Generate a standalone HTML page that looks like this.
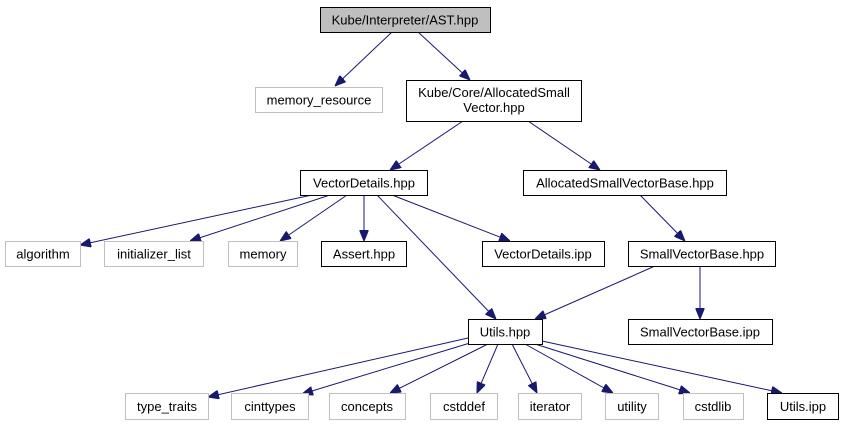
<!DOCTYPE html>
<html><head><meta charset="utf-8"><style>
html,body{margin:0;padding:0;background:#fff;}
svg{display:block;}
text{font-family:"Liberation Sans",Arial,sans-serif;font-size:13px;text-anchor:middle;fill:#000;}
.g{fill:#fff;stroke:#bfbfbf;stroke-width:1;}
.b{fill:#fff;stroke:#000;stroke-width:1;}
.e{stroke:#191970;stroke-width:1;fill:none;marker-end:url(#a);}
</style></head><body>
<svg width="843" height="425" viewBox="0 0 843 425" xmlns="http://www.w3.org/2000/svg">
<defs><marker id="a" markerWidth="11" markerHeight="9" refX="11" refY="4.5" orient="auto" markerUnits="userSpaceOnUse"><path d="M0,0 L11,4.5 L0,9 z" fill="#191970" stroke="#191970"/></marker></defs>
<line class="e" x1="392" y1="32" x2="335" y2="86"/>
<line class="e" x1="418" y1="32" x2="470" y2="80"/>
<line class="e" x1="463" y1="121" x2="390" y2="170"/>
<line class="e" x1="528" y1="121" x2="600" y2="170"/>
<line class="e" x1="312" y1="195" x2="80" y2="245"/>
<line class="e" x1="330" y1="195" x2="190" y2="241"/>
<line class="e" x1="347" y1="195" x2="280" y2="241"/>
<line class="e" x1="364" y1="195" x2="364" y2="241"/>
<line class="e" x1="377" y1="195" x2="496" y2="319"/>
<line class="e" x1="392" y1="195" x2="510" y2="241"/>
<line class="e" x1="640" y1="195" x2="685" y2="241"/>
<line class="e" x1="655" y1="266" x2="535" y2="319"/>
<line class="e" x1="700" y1="266" x2="700" y2="319"/>
<line class="e" x1="468" y1="338" x2="208" y2="397"/>
<line class="e" x1="470" y1="343" x2="302" y2="394"/>
<line class="e" x1="488" y1="344" x2="390" y2="393"/>
<line class="e" x1="498" y1="344" x2="477" y2="393"/>
<line class="e" x1="512" y1="344" x2="537" y2="393"/>
<line class="e" x1="525" y1="344" x2="613" y2="393"/>
<line class="e" x1="535" y1="344" x2="690" y2="393"/>
<line class="e" x1="542" y1="341" x2="782" y2="393"/>
<rect x="320.5" y="7.5" width="170" height="25" fill="#bfbfbf" stroke="#000"/>
<text x="405" y="24.5">Kube/Interpreter/AST.hpp</text>
<rect class="g" x="255.5" y="87.5" width="127" height="25"/><text x="319" y="104.5">memory_resource</text>
<rect class="b" x="406.5" y="80.5" width="175" height="41"/><text x="494" y="97">Kube/Core/AllocatedSmall</text><text x="494" y="112">Vector.hpp</text>
<rect class="b" x="300.5" y="170.5" width="127" height="25"/><text x="364" y="187.5">VectorDetails.hpp</text>
<rect class="b" x="523.5" y="170.5" width="203" height="25"/><text x="625" y="187.5">AllocatedSmallVectorBase.hpp</text>
<rect class="g" x="5.5" y="241.5" width="75" height="25"/><text x="43" y="258.5">algorithm</text>
<rect class="g" x="104.5" y="241.5" width="99" height="25"/><text x="154" y="258.5">initializer_list</text>
<rect class="g" x="228.5" y="241.5" width="69" height="25"/><text x="263" y="258.5">memory</text>
<rect class="b" x="321.5" y="241.5" width="85" height="25"/><text x="364" y="258.5">Assert.hpp</text>
<rect class="b" x="482.5" y="241.5" width="122" height="25"/><text x="543" y="258.5">VectorDetails.ipp</text>
<rect class="b" x="628.5" y="241.5" width="147" height="25"/><text x="702" y="258.5">SmallVectorBase.hpp</text>
<rect class="b" x="468.5" y="319.5" width="74" height="25"/><text x="505" y="336.5">Utils.hpp</text>
<rect class="b" x="628.5" y="319.5" width="144" height="25"/><text x="700" y="336.5">SmallVectorBase.ipp</text>
<rect class="g" x="125.5" y="393.5" width="83" height="26"/><text x="167" y="411">type_traits</text>
<rect class="g" x="231.5" y="393.5" width="77" height="26"/><text x="270" y="411">cinttypes</text>
<rect class="g" x="329.5" y="393.5" width="76" height="26"/><text x="367" y="411">concepts</text>
<rect class="g" x="430.5" y="393.5" width="67" height="26"/><text x="464" y="411">cstddef</text>
<rect class="g" x="518.5" y="393.5" width="63" height="26"/><text x="550" y="411">iterator</text>
<rect class="g" x="605.5" y="393.5" width="53" height="26"/><text x="632" y="411">utility</text>
<rect class="g" x="683.5" y="393.5" width="60" height="26"/><text x="713" y="411">cstdlib</text>
<rect class="b" x="767.5" y="393.5" width="71" height="26"/><text x="803" y="411">Utils.ipp</text>
</svg>
</body></html>
